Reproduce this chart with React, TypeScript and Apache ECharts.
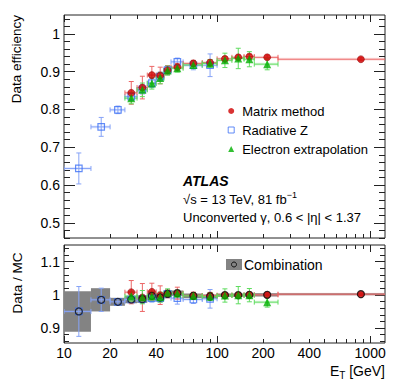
import React, { useEffect, useRef } from 'react';
import * as echarts from 'echarts';

// ---------------- data ----------------
const binLow = [10, 15, 20, 25, 30, 35, 40, 45, 50, 60, 80, 100, 125, 150, 175, 250];
const binHigh = [15, 20, 25, 30, 35, 40, 45, 50, 60, 80, 100, 125, 150, 175, 250, 1500];
const binCenter = [12.5, 17.5, 22.5, 27.5, 32.5, 37.5, 42.5, 47.5, 55, 70, 90, 112.5, 137.5, 162.5, 212.5, 870];

const N = null;
// top panel: data efficiency
const matrixEff = [N, N, N, 0.844, 0.858, 0.891, 0.890, 0.904, 0.912, 0.922, 0.924, 0.934, 0.938, 0.940, 0.938, 0.933];
const matrixEffErr = [N, N, N, 0.030, 0.030, 0.023, 0.022, 0.012, 0.010, 0.008, 0.008, 0.006, 0.006, 0.006, 0.006, 0.004];
const radZEff = [0.644, 0.754, 0.799, 0.834, 0.853, 0.870, 0.887, 0.904, 0.926, 0.917, 0.917, N, N, N, N, N];
const radZEffErr = [0.041, 0.025, 0.010, 0.010, 0.012, 0.012, 0.012, 0.012, 0.010, 0.012, 0.030, N, N, N, N, N];
const elecEff = [N, N, N, 0.830, 0.852, 0.869, 0.883, 0.903, 0.909, 0.918, 0.922, 0.930, 0.935, 0.933, 0.920, N];
const elecEffErr = [N, N, N, 0.015, 0.018, 0.015, 0.015, 0.012, 0.010, 0.010, 0.010, 0.019, 0.027, 0.020, 0.015, N];

// bottom panel: data / MC
const comboRatio = [0.950, 0.985, 0.979, 0.986, 0.987, 0.997, 0.992, 1.003, 1.005, 0.997, 0.995, 0.999, 0.999, 1.000, 1.000, 1.002];
const comboRatioErr = [0.061, 0.035, 0.012, 0.011, 0.011, 0.010, 0.010, 0.009, 0.008, 0.007, 0.006, 0.005, 0.005, 0.005, 0.005, 0.003];
const matrixRatio = [N, N, N, 1.008, 0.992, 1.009, 0.999, 1.003, 1.005, 0.998, 0.998, 0.999, 0.999, 1.000, 1.000, 1.002];
const matrixRatioErr = [N, N, N, 0.035, 0.042, 0.026, 0.028, 0.012, 0.018, 0.010, 0.008, 0.007, 0.007, 0.007, 0.007, 0.004];
const radZRatio = [0.950, 0.985, 0.979, 0.986, 0.987, 0.990, 0.990, 1.003, 0.990, 0.986, 0.988, N, N, N, N, N];
const radZRatioErr = [0.075, 0.035, 0.010, 0.010, 0.012, 0.012, 0.012, 0.012, 0.018, 0.012, 0.028, N, N, N, N, N];
const elecRatio = [N, N, N, 0.996, 0.993, 0.996, 0.993, 1.006, 1.004, 0.997, 0.995, 0.998, 0.999, 0.999, 0.978, N];
const elecRatioErr = [N, N, N, 0.015, 0.020, 0.015, 0.015, 0.012, 0.010, 0.010, 0.012, 0.020, 0.026, 0.020, 0.015, N];

// axes
const xTickLabels = [10, 20, 40, 100, 200, 400, 1000];
const xMajorTicks = [10, 100, 1000];
const xMinorTicks = [20, 30, 40, 50, 60, 70, 80, 90, 200, 300, 400, 500, 600, 700, 800, 900];
const topYLabels = [0.5, 0.6, 0.7, 0.8, 0.9, 1.0];
const botYLabels = [0.9, 1.0, 1.1];

// ---------------- style ----------------
const FONT = '"Liberation Sans", Arial, Helvetica, sans-serif';
const AX = '#222';
const RED = '#d00000';
const RED_ERR = '#ec6767';
const BLUE = '#3b6ff5';
const BLUE_ERR = '#86a3f7';
const GREEN = '#00b000';
const GREEN_ERR = '#5fdc5f';
const BAND = '#838383';

const X_MIN = 10, X_MAX = 1250;
const TOP_MIN = 0.46, TOP_MAX = 1.05;
const BOT_MIN = 0.855, BOT_MAX = 1.15;

function range(a: number, b: number, step: number, skip: number[]) {
  const out: number[] = [];
  for (let v = a; v <= b + 1e-9; v += step) {
    const r = Math.round(v * 1000) / 1000;
    if (!skip.some((s) => Math.abs(s - r) < 1e-6)) out.push(r);
  }
  return out;
}
const topYMinor = range(0.46, 1.04, 0.02, topYLabels);
const botYMinor = range(0.86, 1.14, 0.02, botYLabels);

function errData(vals: (number | null)[], errs: (number | null)[]) {
  const out: number[][] = [];
  vals.forEach((v, i) => {
    if (v == null) return;
    const e = errs[i] as number;
    out.push([binCenter[i], v, binLow[i], binHigh[i], v - e, v + e]);
  });
  return out;
}
function ptData(vals: (number | null)[]) {
  const out: number[][] = [];
  vals.forEach((v, i) => {
    if (v == null) return;
    out.push([binCenter[i], v]);
  });
  return out;
}
function boxData(vals: (number | null)[], errs: (number | null)[]) {
  const out: number[][] = [];
  vals.forEach((v, i) => {
    if (v == null) return;
    const e = errs[i] as number;
    out.push([binLow[i], binHigh[i], v + e, v - e]);
  });
  return out;
}

function errRender(color: string) {
  return (params: any, api: any) => {
    const x = api.value(0), y = api.value(1);
    const c = api.coord([x, y]);
    const l = api.coord([api.value(2), y]);
    const r = api.coord([api.value(3), y]);
    const b = api.coord([x, api.value(4)]);
    const t = api.coord([x, api.value(5)]);
    const cap = 2.5;
    const st = { stroke: color, lineWidth: 1 };
    const line = (x1: number, y1: number, x2: number, y2: number, style: any = st) => ({
      type: 'line', shape: { x1, y1, x2, y2 }, style,
    });
    return {
      type: 'group',
      children: [
        line(l[0], c[1], r[0], c[1], { stroke: color, lineWidth: 3, opacity: 0.18 }),
        line(l[0], c[1], r[0], c[1]),
        line(l[0], c[1] - cap, l[0], c[1] + cap),
        line(r[0], c[1] - cap, r[0], c[1] + cap),
        line(c[0], b[1], c[0], t[1]),
        line(c[0] - cap, b[1], c[0] + cap, b[1]),
        line(c[0] - cap, t[1], c[0] + cap, t[1]),
      ],
    };
  };
}
function boxRender(fill: string) {
  return (params: any, api: any) => {
    const p1 = api.coord([api.value(0), api.value(2)]);
    const p2 = api.coord([api.value(1), api.value(3)]);
    return {
      type: 'rect',
      shape: { x: p1[0], y: p1[1], width: p2[0] - p1[0], height: p2[1] - p1[1] },
      style: { fill },
    };
  };
}

function mkX(gridIndex: number, position: string, ticks: number[], len: number, labels?: number[]) {
  return {
    type: 'log', logBase: 10, gridIndex, position, min: X_MIN, max: X_MAX,
    axisLine: { show: false },
    splitLine: { show: false },
    minorTick: { show: false },
    axisTick: { show: true, inside: true, length: len, customValues: ticks, lineStyle: { color: AX, width: 1 } },
    axisLabel: labels
      ? { show: true, customValues: labels, formatter: (v: number) => String(Math.round(v)), fontSize: 14, fontFamily: FONT, color: '#000', margin: 3 }
      : { show: false },
  };
}
function mkY(gridIndex: number, position: string, min: number, max: number, ticks: number[], len: number, labels?: number[]) {
  return {
    type: 'value', gridIndex, position, min, max,
    axisLine: { show: false },
    splitLine: { show: false },
    axisTick: { show: true, inside: true, length: len, customValues: ticks, lineStyle: { color: AX, width: 1 } },
    axisLabel: labels
      ? { show: true, customValues: labels, formatter: (v: number) => String(Number(v.toFixed(2))), fontSize: 14, fontFamily: FONT, color: '#000', margin: 4 }
      : { show: false },
  };
}

function custom(xi: number, yi: number, render: any, data: number[][], encode: any) {
  return { type: 'custom', xAxisIndex: xi, yAxisIndex: yi, clip: true, silent: true, renderItem: render, encode, data };
}
function scatter(name: string, xi: number, yi: number, data: number[][], symbol: string, size: number, itemStyle: any) {
  return { type: 'scatter', name, xAxisIndex: xi, yAxisIndex: yi, data, symbol, symbolSize: size, itemStyle, silent: true, clip: true };
}

const redStyle = { color: RED, borderColor: '#8a0000', borderWidth: 0.6 };
const blueStyle = { color: 'rgba(255,255,255,0)', borderColor: BLUE, borderWidth: 1.2 };
const greenStyle = { color: GREEN };

const option: any = {
  animation: false,
  textStyle: { fontFamily: FONT },
  grid: [
    { left: 64, top: 15, width: 321, height: 223, show: true, borderColor: AX, borderWidth: 1, backgroundColor: 'transparent', outerBoundsMode: 'none' },
    { left: 64, top: 245, width: 321, height: 98, show: true, borderColor: AX, borderWidth: 1, backgroundColor: 'transparent', outerBoundsMode: 'none' },
  ],
  xAxis: [
    mkX(0, 'bottom', xMajorTicks, 7),
    mkX(0, 'bottom', xMinorTicks, 4),
    mkX(0, 'top', xMajorTicks, 7),
    mkX(0, 'top', xMinorTicks, 4),
    mkX(1, 'bottom', xMajorTicks, 7, xTickLabels),
    mkX(1, 'bottom', xMinorTicks, 4),
    mkX(1, 'top', xMajorTicks, 7),
    mkX(1, 'top', xMinorTicks, 4),
  ],
  yAxis: [
    mkY(0, 'left', TOP_MIN, TOP_MAX, topYLabels, 11, topYLabels),
    mkY(0, 'left', TOP_MIN, TOP_MAX, topYMinor, 6),
    mkY(0, 'right', TOP_MIN, TOP_MAX, topYLabels, 11),
    mkY(0, 'right', TOP_MIN, TOP_MAX, topYMinor, 6),
    mkY(1, 'left', BOT_MIN, BOT_MAX, botYLabels, 10, botYLabels),
    mkY(1, 'left', BOT_MIN, BOT_MAX, botYMinor, 5),
    mkY(1, 'right', BOT_MIN, BOT_MAX, botYLabels, 10),
    mkY(1, 'right', BOT_MIN, BOT_MAX, botYMinor, 5),
  ],
  legend: [
    {
      orient: 'vertical', left: 222.7, top: 96.5, itemWidth: 6, itemHeight: 6, itemGap: 0,
      selectedMode: false,
      textStyle: { fontSize: 13, fontFamily: FONT, color: '#000', lineHeight: 19, padding: [0, 0, 0, 3] },
      data: [
        { name: 'Matrix method', icon: 'circle', itemStyle: { color: RED, borderWidth: 0 } },
        { name: 'Radiative Z', icon: 'rect', itemStyle: { color: 'rgba(255,255,255,0)', borderColor: BLUE, borderWidth: 1 } },
        { name: 'Electron extrapolation', icon: 'triangle', itemStyle: { color: GREEN } },
      ],
    },
  ],
  graphic: [
    { type: 'text', x: 16, y: 15, rotation: Math.PI / 2, style: { text: 'Data efficiency', font: `13.5px ${FONT}`, align: 'right', verticalAlign: 'middle', fill: '#000' } },
    { type: 'text', x: 17, y: 283, rotation: Math.PI / 2, style: { text: 'Data / MC', font: `13.5px ${FONT}`, align: 'center', verticalAlign: 'middle', fill: '#000' } },
    { type: 'text', x: 183, y: 181, style: { text: 'ATLAS', font: `italic bold 14px ${FONT}`, align: 'left', verticalAlign: 'middle', fill: '#000' } },
    {
      type: 'text', x: 183, y: 199,
      style: {
        text: '{n|√s = 13 TeV, 81 fb}{s|−1}', align: 'left', verticalAlign: 'middle',
        rich: { n: { fontSize: 13, lineHeight: 18, fontFamily: FONT, fill: '#000' }, s: { fontSize: 9, lineHeight: 9, verticalAlign: 'top', fontFamily: FONT, fill: '#000' } },
      },
    },
    { type: 'text', x: 183, y: 217, style: { text: 'Unconverted γ, 0.6 < |η| < 1.37', font: `13px ${FONT}`, align: 'left', verticalAlign: 'middle', fill: '#000' } },
    {
      type: 'text', x: 385, y: 371,
      style: {
        text: '{e|E}{s|T}{e| [GeV]}', align: 'right', verticalAlign: 'middle',
        rich: { e: { fontSize: 14, lineHeight: 18, fontFamily: FONT, fill: '#000' }, s: { fontSize: 10, lineHeight: 10, verticalAlign: 'bottom', fontFamily: FONT, fill: '#000' } },
      },
    },
    { type: 'rect', shape: { x: 226, y: 259, width: 16, height: 11 }, style: { fill: BAND } },
    { type: 'circle', shape: { cx: 234, cy: 264.5, r: 2.5 }, style: { fill: 'none', stroke: '#111', lineWidth: 1 } },
    { type: 'text', x: 244, y: 264.5, style: { text: 'Combination', font: `14px ${FONT}`, align: 'left', verticalAlign: 'middle', fill: '#000' } },
  ],
  series: [
    // top panel
    custom(0, 0, errRender(BLUE_ERR), errData(radZEff, radZEffErr), { x: 0, y: 1 }),
    custom(0, 0, errRender(RED_ERR), errData(matrixEff, matrixEffErr), { x: 0, y: 1 }),
    custom(0, 0, errRender(GREEN_ERR), errData(elecEff, elecEffErr), { x: 0, y: 1 }),
    scatter('Radiative Z', 0, 0, ptData(radZEff), 'rect', 6.5, blueStyle),
    scatter('Matrix method', 0, 0, ptData(matrixEff), 'circle', 7, redStyle),
    scatter('Electron extrapolation', 0, 0, ptData(elecEff), 'triangle', 8, greenStyle),
    // bottom panel
    custom(4, 4, boxRender(BAND), boxData(comboRatio, comboRatioErr), { x: [0, 1], y: [2, 3] }),
    custom(4, 4, errRender(BLUE_ERR), errData(radZRatio, radZRatioErr), { x: 0, y: 1 }),
    custom(4, 4, errRender(RED_ERR), errData(matrixRatio, matrixRatioErr), { x: 0, y: 1 }),
    custom(4, 4, errRender(GREEN_ERR), errData(elecRatio, elecRatioErr), { x: 0, y: 1 }),
    scatter('Radiative Z', 4, 4, ptData(radZRatio), 'rect', 6.5, blueStyle),
    scatter('Matrix method', 4, 4, ptData(matrixRatio), 'circle', 7, redStyle),
    scatter('Combination', 4, 4, ptData(comboRatio), 'circle', 7, { color: 'rgba(255,255,255,0)', borderColor: '#111', borderWidth: 1.2 }),
    scatter('Electron extrapolation', 4, 4, ptData(elecRatio), 'triangle', 8, greenStyle),
  ],
};

export default function App() {
  const ref = useRef<HTMLDivElement>(null);
  useEffect(() => {
    if (!ref.current) return;
    const chart = echarts.init(ref.current, null, { renderer: 'svg' });
    chart.setOption(option);
    return () => chart.dispose();
  }, []);
  return <div ref={ref} style={{ position: 'absolute', left: 0, top: 0, width: 407, height: 387, background: '#fff' }} />;
}
